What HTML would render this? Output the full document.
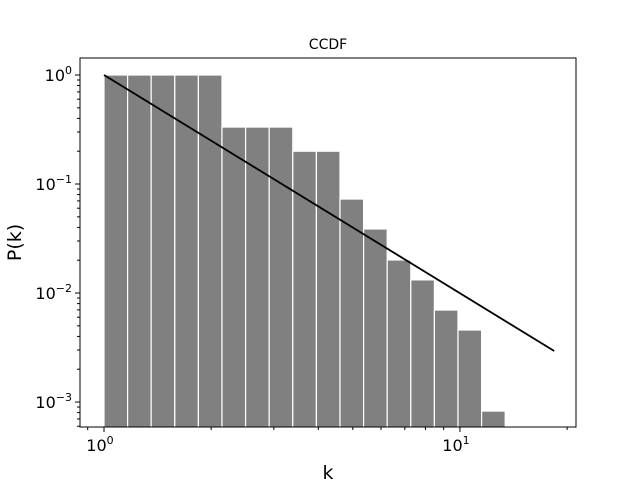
<!DOCTYPE html>
<html><head><meta charset="utf-8"><style>
body{margin:0;background:#fff;}
svg{display:block;font-family:"DejaVu Sans","Liberation Sans",sans-serif;}
</style></head><body>
<svg id="chart" width="640" height="480"></svg>
<script>
const binCount = [17];
const barValues = [1,1,1,1,1,0.333,0.333,0.333,0.2,0.2,0.0728,0.0387,0.0201,0.0132,0.00698,0.00458,0.000826];
const binLogWidth = [0.0663];
const fitLine = {k:[1,18.4], p:[1,0.00294]};
const xTickLabels = ["0","1"];
const yTickLabels = ["0","−1","−2","−3"];

const NS="http://www.w3.org/2000/svg";
const svg=document.getElementById('chart');
const L=80,R=576,T=58,B=427;
const xLogMin=-0.0674,xLogMax=1.326,yLogMin=-3.229,yLogMax=0.156;
function X(v){return L+(Math.log10(v)-xLogMin)/(xLogMax-xLogMin)*(R-L);}
function Y(v){return B-(Math.log10(v)-yLogMin)/(yLogMax-yLogMin)*(B-T);}
function mk(tag,attrs,parent){const e=document.createElementNS(NS,tag);for(const k in attrs)e.setAttribute(k,attrs[k]);(parent||svg).appendChild(e);return e;}

const defs=mk('defs',{});
const cp=mk('clipPath',{id:'clip'},defs);
mk('rect',{x:L,y:T,width:R-L,height:B-T},cp);
const g=mk('g',{'clip-path':'url(#clip)'});
barValues.forEach((v,i)=>{
  const x0=X(Math.pow(10,i*binLogWidth[0])),x1=X(Math.pow(10,(i+1)*binLogWidth[0]));
  const r=mk('rect',{x:x0,y:Y(v),width:x1-x0,height:B+10-Y(v),fill:'#808080',stroke:'#fff','stroke-width':1.2},g);
  
  
});
const ln=mk('line',{x1:X(fitLine.k[0]),y1:Y(fitLine.p[0]),x2:X(fitLine.k[1]),y2:Y(fitLine.p[1]),stroke:'#000','stroke-width':1.8});



const fr=mk('rect',{x:L,y:T,width:R-L,height:B-T,fill:'none',stroke:'#000','stroke-width':1});



// x ticks
xTickLabels.forEach(e=>{
  const x=X(Math.pow(10,+e));
  mk('line',{x1:x,y1:B,x2:x,y2:B+5,stroke:'#000'});
  const t=mk('text',{x:x-4,y:B+24,'font-size':16,'text-anchor':'middle'});
  
  
  t.innerHTML='10<tspan dy="-7" font-size="11">'+e+'</tspan>';
});
for(const d of [0.1,1,10]) for(let m=2;m<10;m++){const v=m*d;const lv=Math.log10(v);if(lv>xLogMin&&lv<xLogMax){const x=X(v);mk('line',{x1:x,y1:B,x2:x,y2:B+3,stroke:'#000'});}}
// y ticks
yTickLabels.forEach((lab,i)=>{
  const y=Y(Math.pow(10,-i));
  mk('line',{x1:L,y1:y,x2:L-5,y2:y,stroke:'#000'});
  const t=mk('text',{x:L-8,y:y+6,'font-size':16,'text-anchor':'end'});
  
  
  t.innerHTML='10<tspan dy="-7" font-size="11">'+lab+'</tspan>';
});
for(const d of [0.0001,0.001,0.01,0.1,1]) for(let m=2;m<10;m++){const v=m*d;const lv=Math.log10(v);if(lv>yLogMin&&lv<yLogMax){const y=Y(v);mk('line',{x1:L,y1:y,x2:L-3,y2:y,stroke:'#000'});}}

const tt=mk('text',{x:(L+R)/2,y:T-9,'font-size':14,'text-anchor':'middle'});tt.textContent='CCDF';


const xl=mk('text',{x:(L+R)/2,y:479,'font-size':19,'text-anchor':'middle'});xl.textContent='k';


const yl=mk('text',{x:0,y:0,'font-size':19,'text-anchor':'middle',transform:'translate(21,'+((T+B)/2)+') rotate(-90)'});yl.textContent='P(k)';


</script>
</body></html>
